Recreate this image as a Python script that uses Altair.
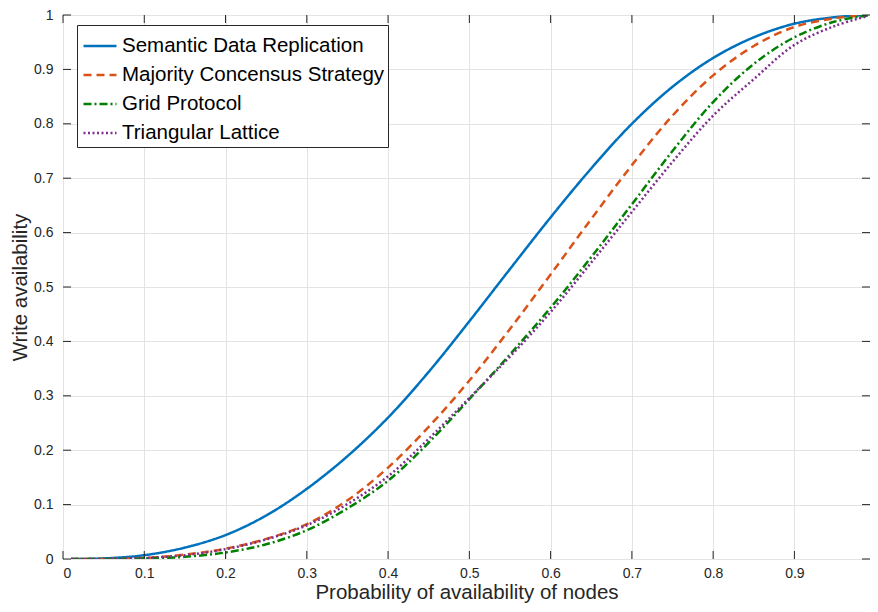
import altair as alt
import pandas as pd

# ---- data ----
p_vals = [0.01, 0.05, 0.10, 0.15, 0.20, 0.25, 0.30, 0.35, 0.40, 0.45, 0.50,
          0.55, 0.60, 0.65, 0.70, 0.75, 0.80, 0.85, 0.90, 0.95, 0.99]
semantic = [0.000, 0.001, 0.007, 0.021, 0.044, 0.080, 0.129, 0.189, 0.260, 0.344, 0.437,
            0.533, 0.628, 0.718, 0.800, 0.868, 0.921, 0.959, 0.984, 0.996, 1.000]
majority = [0.000, 0.000, 0.002, 0.008, 0.019, 0.037, 0.064, 0.108, 0.168, 0.243, 0.328,
            0.423, 0.523, 0.625, 0.724, 0.815, 0.889, 0.943, 0.978, 0.994, 0.9995]
grid_p = [0.000, 0.000, 0.001, 0.004, 0.012, 0.027, 0.053, 0.093, 0.144, 0.214, 0.294,
          0.376, 0.462, 0.555, 0.652, 0.750, 0.840, 0.910, 0.959, 0.988, 0.999]
triangular = [0.000, 0.000, 0.002, 0.007, 0.018, 0.036, 0.062, 0.101, 0.152, 0.221, 0.296,
              0.372, 0.454, 0.545, 0.638, 0.730, 0.815, 0.882, 0.945, 0.980, 0.998]

series_names = ["Semantic Data Replication", "Majority Concensus Strategy",
                "Grid Protocol", "Triangular Lattice"]
colors = ["#0072BD", "#D95319", "#008000", "#7E2F8E"]
dashes = [[1, 0], [8, 5], [8, 3, 2, 3], [2, 2.5]]

x_ticks = [0, 0.1, 0.2, 0.3, 0.4, 0.5, 0.6, 0.7, 0.8, 0.9]
y_ticks = [0, 0.1, 0.2, 0.3, 0.4, 0.5, 0.6, 0.7, 0.8, 0.9, 1.0]

rows = []
for name, vals in zip(series_names, [semantic, majority, grid_p, triangular]):
    for p, a in zip(p_vals, vals):
        rows.append({"series": name, "p": p, "a": a})
df = pd.DataFrame(rows)

W, H = 807, 544
FONT = "Liberation Sans"
AX = "#262626"

xs = alt.Scale(domain=[0, 0.993], nice=False, zero=False)
ys = alt.Scale(domain=[0, 1], nice=False)

leg = alt.Legend(
    title=None, orient="none", legendX=14, legendY=10,
    symbolType="stroke", symbolSize=1089, symbolStrokeWidth=2.5, symbolOffset=2,
    labelFont=FONT, labelFontSize=20.5, labelColor="black",
    fillColor="white", strokeColor=AX, padding=3, rowPadding=-4.5,
    labelOffset=4, labelLimit=500,
)

lines = alt.Chart(df).mark_line(strokeWidth=2.5, interpolate="catmull-rom", clip=True).encode(
    x=alt.X("p:Q", scale=xs,
            axis=alt.Axis(values=x_ticks, format=".1~f",
                          title="Probability of availability of nodes",
                          labelPadding=7, titlePadding=2)),
    y=alt.Y("a:Q", scale=ys,
            axis=alt.Axis(values=y_ticks, format=".1~f", title="Write availability",
                          labelPadding=10, titlePadding=3)),
    color=alt.Color("series:N", sort=series_names,
                    scale=alt.Scale(domain=series_names, range=colors), legend=leg),
    strokeDash=alt.StrokeDash("series:N", sort=series_names,
                              scale=alt.Scale(domain=series_names, range=dashes), legend=leg),
)

xt = pd.DataFrame({"t": x_ticks})
yt = pd.DataFrame({"t": y_ticks})
TL = 8
tick_bottom = alt.Chart(xt).mark_rule(color=AX, strokeWidth=1).encode(
    x=alt.X("t:Q", scale=xs), y=alt.value(H), y2=alt.value(H - TL))
tick_top = alt.Chart(xt).mark_rule(color=AX, strokeWidth=1).encode(
    x=alt.X("t:Q", scale=xs), y=alt.value(0), y2=alt.value(TL))
tick_left = alt.Chart(yt).mark_rule(color=AX, strokeWidth=1).encode(
    y=alt.Y("t:Q", scale=ys), x=alt.value(0), x2=alt.value(TL))
tick_right = alt.Chart(yt).mark_rule(color=AX, strokeWidth=1).encode(
    y=alt.Y("t:Q", scale=ys), x=alt.value(W), x2=alt.value(W - TL))

chart = alt.layer(lines, tick_bottom, tick_top, tick_left, tick_right).properties(
    width=W, height=H,
    autosize=alt.AutoSizeParams(type="none"),
    padding={"left": 55, "top": 7, "right": 0, "bottom": 45},
    background="white",
).configure_view(
    stroke=AX, strokeWidth=1
).configure_axis(
    labelFont=FONT, labelFontSize=14, labelColor=AX,
    titleFont=FONT, titleFontSize=20.5, titleFontWeight="normal", titleColor=AX,
    ticks=False, domain=False, grid=True, gridColor="#e3e3e3", gridWidth=1,
)

chart.save("out.html", embed_options={"renderer": "svg", "actions": False})
